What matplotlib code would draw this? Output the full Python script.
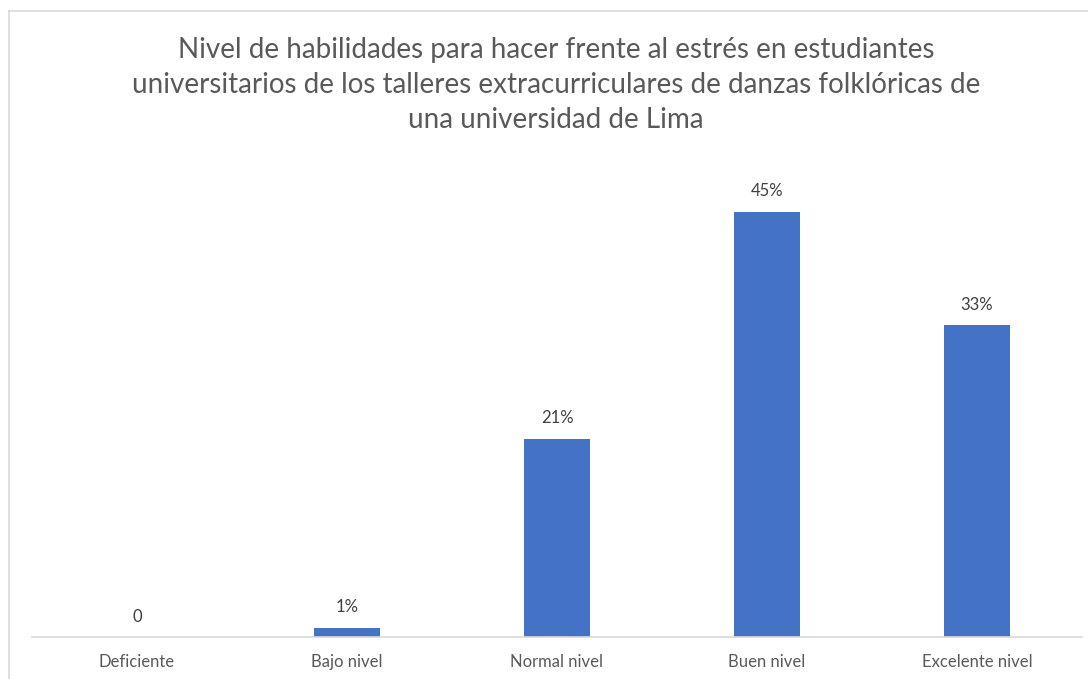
import matplotlib
matplotlib.use("Agg")
import matplotlib.pyplot as plt
from matplotlib.lines import Line2D

categories = ["Deficiente", "Bajo nivel", "Normal nivel", "Buen nivel", "Excelente nivel"]
values = [0, 1, 21, 45, 33]
value_labels = ["0", "1%", "21%", "45%", "33%"]
title = ("Nivel de habilidades para hacer frente al estrés en estudiantes\n"
         "universitarios de los talleres extracurriculares de danzas folklóricas de\n"
         "una universidad de Lima")

W, H = 1088, 679
fig = plt.figure(figsize=(W / 100, H / 100), dpi=100)
plt.rcParams['font.family'] = ['Lato', 'DejaVu Sans']

# outer frame (partially visible)
fig.add_artist(Line2D([9 / W, 9 / W], [0, 1 - 11 / H], transform=fig.transFigure, color="#d9d9d9", lw=1.2))
fig.add_artist(Line2D([9 / W, 1], [1 - 11 / H, 1 - 11 / H], transform=fig.transFigure, color="#d9d9d9", lw=1.2))

ax_left, ax_right = 32, 1082
ax_top, ax_bottom = 175, 637
ax = fig.add_axes([ax_left / W, 1 - ax_bottom / H, (ax_right - ax_left) / W, (ax_bottom - ax_top) / H])

x = range(len(categories))
bars = ax.bar(x, values, width=0.31, color="#4472c4")
ax.set_xlim(-0.5, len(categories) - 0.5)
ax.set_ylim(0, (ax_bottom - ax_top) / (425 / 45))

for xi, v, lab in zip(x, values, value_labels):
    ax.annotate(lab, (xi, v), xytext=(0, 9), textcoords="offset points",
                ha="center", va="bottom", fontsize=12, color="#404040")

ax.set_xticks(list(x))
ax.set_xticklabels(categories, fontsize=12, color="#595959")
ax.tick_params(axis="x", length=0, pad=12)
ax.set_yticks([])
for s in ["top", "right", "left"]:
    ax.spines[s].set_visible(False)
ax.spines["bottom"].set_color("#d9d9d9")
ax.spines["bottom"].set_linewidth(1.2)

fig.text(556 / W, 1 - 85 / H, title, ha="center", va="center", fontsize=20,
         color="#595959", linespacing=1.45)

fig.savefig("out.png", dpi=100)
